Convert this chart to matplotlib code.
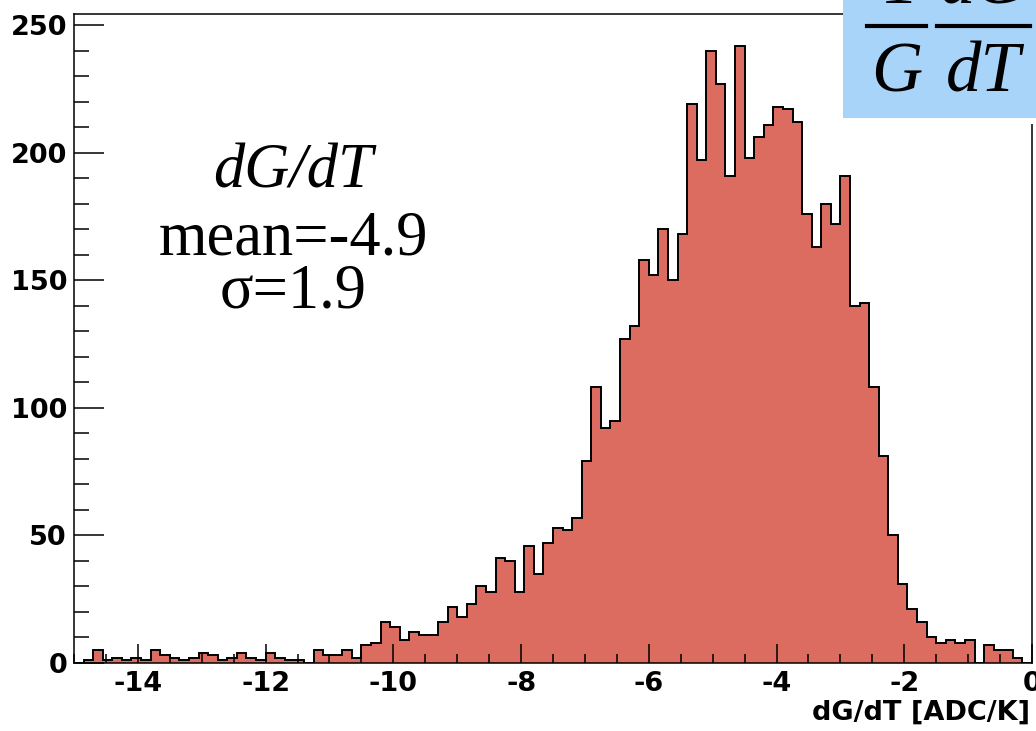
import numpy as np
import matplotlib.pyplot as plt
from matplotlib.patches import Rectangle
from matplotlib.lines import Line2D
from matplotlib.ticker import MultipleLocator

plt.rcParams['axes.unicode_minus'] = False

# dG/dT histogram, 100 bins between -15 and 0 ADC/K
x_lo, x_hi, n_bins = -15.0, 0.0, 100
counts = [0, 1, 5, 1, 2, 1, 2, 1, 5, 3,
          2, 1, 2, 4, 3, 1, 2, 4, 2, 1,
          4, 2, 1, 1, 0, 5, 3, 3, 5, 2,
          7, 8, 16, 14, 9, 12, 11, 11, 16, 22,
          18, 23, 30, 28, 41, 40, 28, 46, 35, 47,
          53, 52, 57, 79, 108, 92, 95, 127, 132, 158,
          152, 170, 150, 168, 219, 197, 240, 227, 191, 242,
          198, 206, 211, 218, 217, 212, 176, 163, 180, 172,
          191, 140, 141, 108, 81, 50, 31, 21, 16, 10,
          8, 9, 8, 9, 0, 7, 5, 5, 2, 0]
y_max = 254.4
x_major = [-14, -12, -10, -8, -6, -4, -2, 0]
y_major = [0, 50, 100, 150, 200, 250]
stat_lines = ['dG/dT', 'mean=-4.9', '\u03c3=1.9']
xlabel = 'dG/dT [ADC/K]'

W, H = 1036, 731
fig = plt.figure(figsize=(W / 100, H / 100), dpi=100)

def fx(px):
    return px / W

def fy(py):
    return 1 - py / H

ax = fig.add_axes([fx(74), fy(663), fx(1032) - fx(74), fy(14) - fy(663)])

edges = np.linspace(x_lo, x_hi, n_bins + 1)
ax.stairs(counts, edges, fill=True, facecolor='#dc6b60', edgecolor='none')
ax.stairs(counts, edges, baseline=0, color='black', linewidth=1.4)

ax.set_xlim(x_lo, x_hi)
ax.set_ylim(0, y_max)
ax.set_xticks(x_major)
ax.set_yticks(y_major)
ax.xaxis.set_minor_locator(MultipleLocator(0.5))
ax.yaxis.set_minor_locator(MultipleLocator(10))
ax.tick_params(axis='both', which='both', direction='in', width=1.1, colors='black',
               top=False, right=False)
ax.tick_params(axis='x', which='major', length=13.5, pad=6)
ax.tick_params(axis='x', which='minor', length=6.8)
ax.tick_params(axis='y', which='major', length=21.5, pad=5)
ax.tick_params(axis='y', which='minor', length=10.8)
for lab in ax.get_xticklabels() + ax.get_yticklabels():
    lab.set_fontfamily('DejaVu Sans')
    lab.set_fontweight('bold')
    lab.set_fontsize(19.5)
for sp in ax.spines.values():
    sp.set_linewidth(1.1)

fig.text(fx(1030), fy(713), xlabel, ha='right', va='center',
         fontfamily='DejaVu Sans', fontweight='bold', fontsize=19.5)

# statistics block
serif = dict(fontfamily='Liberation Serif', fontsize=45, ha='center', va='baseline')
fig.text(fx(293), fy(188), stat_lines[0], style='italic', **serif)
fig.text(fx(293), fy(255), stat_lines[1], **serif)
fig.text(fx(293), fy(308), stat_lines[2], **serif)

# formula box in the top right corner
fig.patches.append(Rectangle((fx(843), fy(124)), fx(W) - fx(843), fy(0) - fy(124),
                             transform=fig.transFigure, facecolor='white',
                             edgecolor='none', zorder=5))
fig.patches.append(Rectangle((fx(843), fy(118)), fx(W) - fx(843), fy(0) - fy(118),
                             transform=fig.transFigure, facecolor='#a8d4f9',
                             edgecolor='none', zorder=6))
frac = dict(fontfamily='Liberation Serif', fontsize=51, ha='center', va='baseline',
            zorder=7)
fig.text(fx(897), fy(3), '1', **frac)
fig.text(fx(983), fy(3), 'dG', style='italic', **frac)
fig.text(fx(897), fy(91), 'G', style='italic', **frac)
fig.text(fx(983), fy(91), 'dT', style='italic', **frac)
for x0, x1 in [(867, 926), (937, 1030)]:
    fig.add_artist(Line2D([fx(x0), fx(x1)], [fy(26), fy(26)], transform=fig.transFigure,
                          color='black', linewidth=3, zorder=7))

fig.savefig('out.png', dpi=100)
